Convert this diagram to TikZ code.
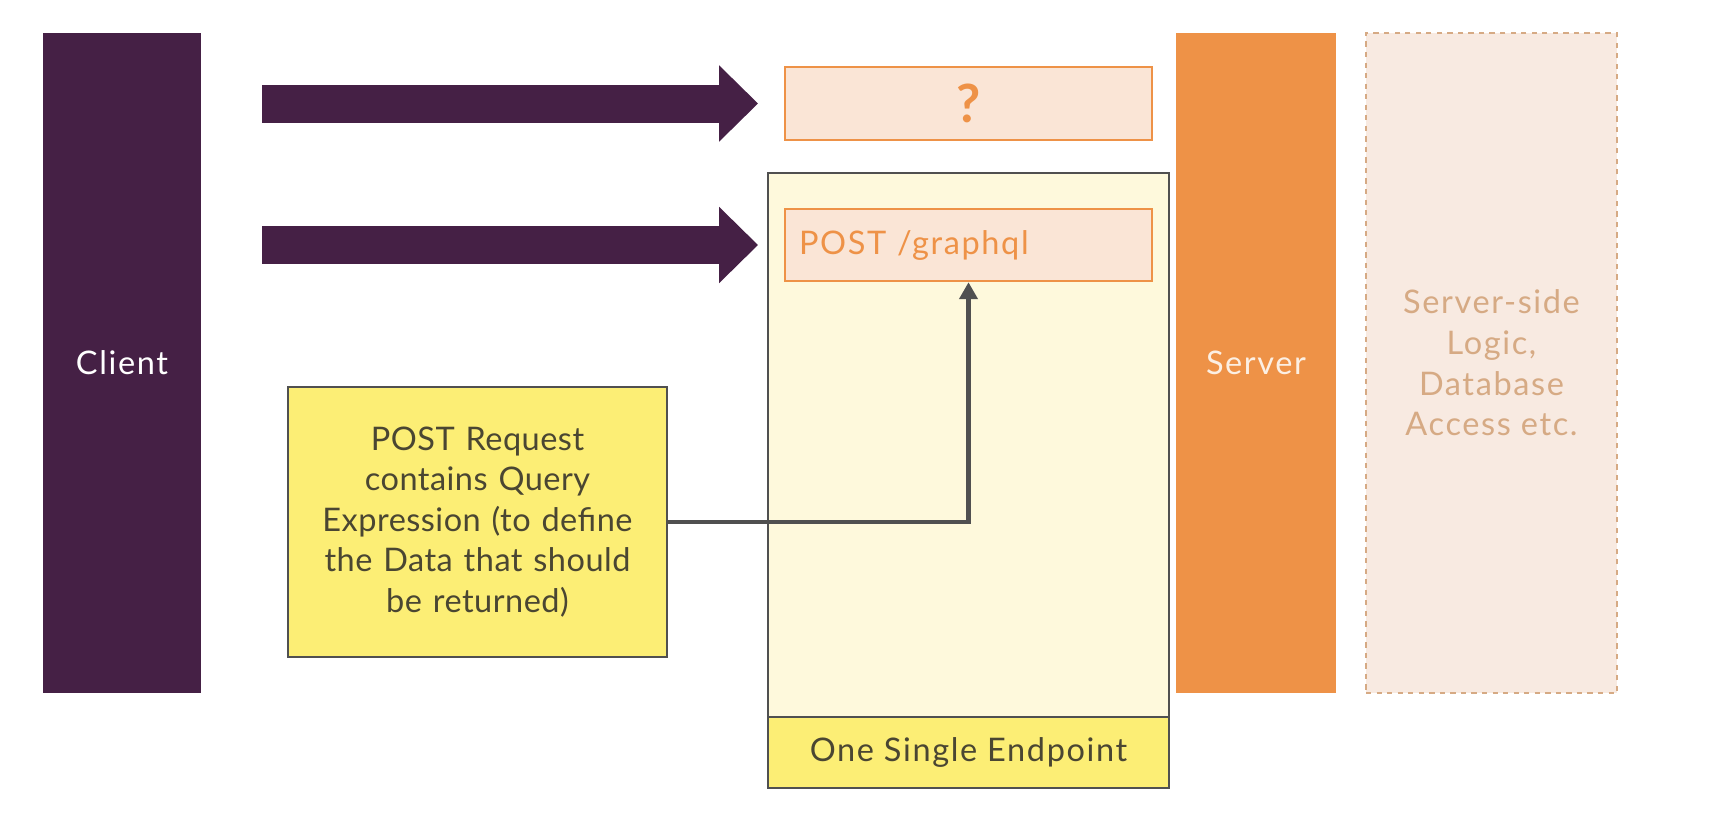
\documentclass[tikz,border=0pt]{standalone}
\usepackage{fontspec}
\setmainfont{Lato}[LetterSpace=5]
\newfontfamily\notefont{Lato}[LetterSpace=1.5]
\usetikzlibrary{arrows.meta}

\definecolor{clientpurple}{HTML}{452045}
\definecolor{srvorange}{HTML}{EE9247}
\definecolor{peach}{HTML}{FAE5D6}
\definecolor{cream}{HTML}{FEF9DC}
\definecolor{lemon}{HTML}{FCEE75}
\definecolor{edgegray}{HTML}{505050}
\definecolor{logicfill}{HTML}{F8EAE1}
\definecolor{logictext}{HTML}{D6AA84}
\definecolor{darktext}{HTML}{4A4632}

\tikzset{
  bigtext/.style={font=\fontsize{18.5}{23.1}\selectfont},
  column/.style={bigtext, minimum width=#1, minimum height=13.2cm, inner sep=0pt},
  routebox/.style={draw=srvorange, line width=1.1pt, fill=peach, minimum width=7.34cm, minimum height=1.45cm},
  yellowbox/.style={bigtext, draw=edgegray, line width=1.1pt, fill=lemon, text=darktext},
  blockarrow/.style={clientpurple, line width=0.76cm, -{Triangle[length=0.78cm,width=1.48cm]}, shorten >=0.52cm}
}

\begin{document}
\begin{tikzpicture}[x=0.02cm, y=-0.02cm]
\useasboundingbox (0,0) rectangle (1724,816);

% client column
\node[column=3.16cm, fill=clientpurple, text=white] (client) at (122,363) {Client};

% endpoint container with its label band
\node[draw=edgegray, line width=1.1pt, fill=cream, minimum width=8.02cm, minimum height=12.3cm] (endpoint) at (968.5,480.5) {};
\node[yellowbox, minimum width=8.02cm, minimum height=1.42cm] (epband) at (968.5,752.5) {One Single Endpoint};

% the two routes
\node[routebox, text=srvorange, font=\fontsize{30}{30}\selectfont\bfseries] (ques) at (968.5,103.5) {?};
\node[routebox, bigtext, text=srvorange, inner xsep=0.28cm, text width=6.78cm, align=left] (post) at (968.5,245) {POST /graphql};

% request note
\node[yellowbox, minimum width=7.58cm, minimum height=5.4cm, text width=7.2cm, align=center] (req) at (477.5,522)
  {\notefont POST Request\\contains Query\\Expression (to define\\the Data that should\\be returned)};

% server and server-side logic
\node[column=3.2cm, fill=srvorange, text=white!85!srvorange] (server) at (1256,363) {Server};
\node[column=5.02cm, fill=logicfill, draw=logictext, dashed, line width=0.8pt, text=logictext, align=center] (logic) at (1491.5,363)
  {Server-side\\Logic,\\Database\\Access etc.};

% client requests
\coordinate (from1) at (262,103.5);
\coordinate (from2) at (262,245);
\draw[blockarrow] (from1) -- (ques.west);
\draw[blockarrow] (from2) -- (post.west);

% note connector
\draw[edgegray, line width=2.4pt, -{Triangle[length=0.34cm,width=0.36cm]}] (req.east) -| (post.south);

\end{tikzpicture}
\end{document}
